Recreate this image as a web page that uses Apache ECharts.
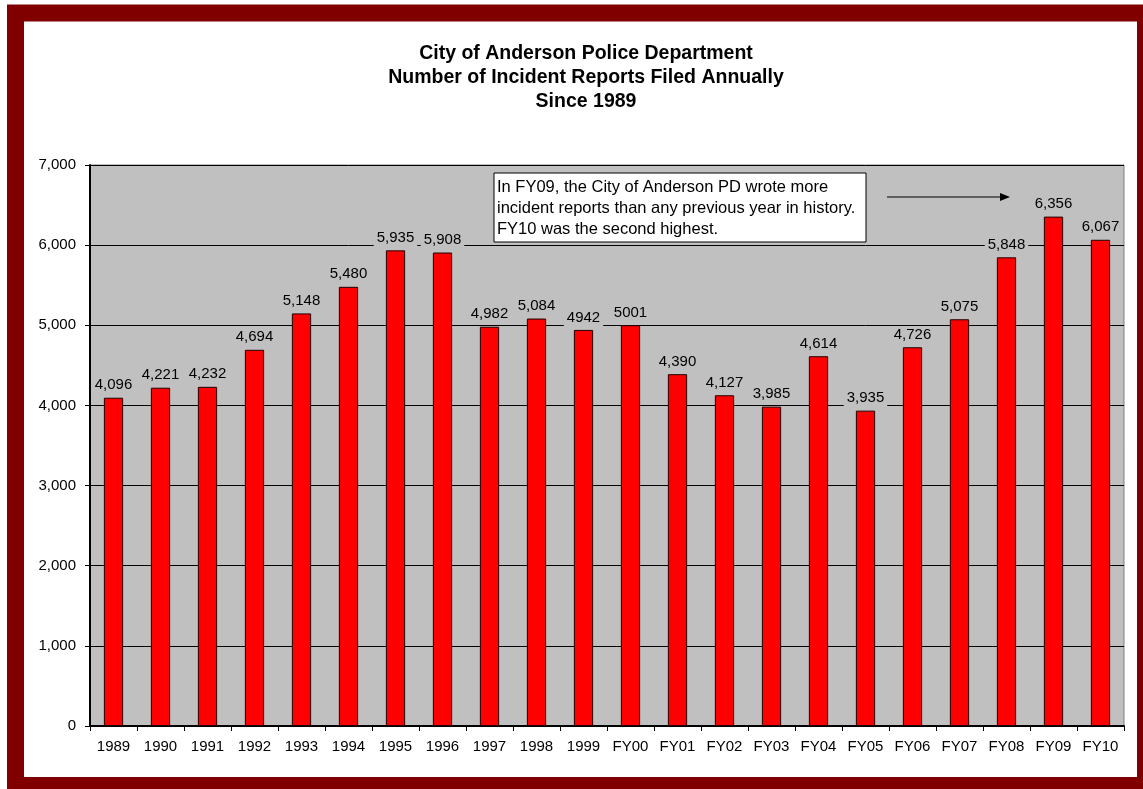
<!DOCTYPE html>
<html>
<head>
<meta charset="utf-8">
<script src="https://cdn.jsdelivr.net/npm/echarts@6/dist/echarts.min.js"></script>
<style>
html, body { margin: 0; padding: 0; background: #fff; }
#chart { width: 1143px; height: 789px; }
</style>
</head>
<body>
<div id="chart"></div>
<script>
const years = [ '1989', '1990', '1991', '1992', '1993', '1994', '1995', '1996', '1997', '1998', '1999',
	'FY00', 'FY01', 'FY02', 'FY03', 'FY04', 'FY05', 'FY06', 'FY07', 'FY08', 'FY09', 'FY10' ]
const reports = [ 4096, 4221, 4232, 4694, 5148, 5480, 5935, 5908, 4982, 5084, 4942,
	5001, 4390, 4127, 3985, 4614, 3935, 4726, 5075, 5848, 6356, 6067 ]
// a few labels in the source are printed without thousands separator
const plainLabels = [ 'FY00', '1999' ]

const chart = echarts.init( document.getElementById( 'chart' ), null, { renderer: 'canvas' } )

const fmt = v => v.toLocaleString( 'en-US' )

const option = {
	animation: false,
	textStyle: { fontFamily: 'Liberation Sans, Arial, sans-serif' },
	title: {
		text: 'City of Anderson Police Department\nNumber of Incident Reports Filed Annually\nSince 1989',
		left: 581,
		top: 37,
		textAlign: 'center',
		textStyle: { fontSize: 19.5, fontWeight: 'bold', color: '#000', lineHeight: 24 }
	},
	grid: { left: 90, right: 19, top: 165, bottom: 63, show: true, backgroundColor: '#c0c0c0', borderColor: '#808080', borderWidth: 1 },
	xAxis: {
		type: 'category',
		data: years,
		axisLine: { lineStyle: { color: '#000', width: 2 } },
		axisTick: { show: true, length: 5, lineStyle: { color: '#000' } },
		axisLabel: { color: '#000', fontSize: 15, margin: 13 }
	},
	yAxis: {
		type: 'value',
		min: 0,
		max: 7000,
		interval: 1000,
		axisLine: { show: true, lineStyle: { color: '#000', width: 2 } },
		axisTick: { show: true, length: 5, lineStyle: { color: '#000' } },
		axisLabel: { color: '#000', fontSize: 15, margin: 14, formatter: v => fmt( v ) },
		splitLine: { lineStyle: { color: '#000', width: 1 } }
	},
	series: [ {
		type: 'bar',
		data: reports,
		barWidth: '41%',
		itemStyle: { color: '#ff0000', borderColor: '#200000', borderWidth: 1 },
		label: {
			show: true,
			position: 'top',
			distance: 4,
			color: '#000',
			fontSize: 15,
			backgroundColor: '#c0c0c0',
			padding: [ 1, 3 ],
			formatter: p => plainLabels.includes( p.name ) ? String( p.value ) : fmt( p.value )
		}
	} ],
	graphic: [
		{
			type: 'rect',
			shape: { x: 15.5, y: 13, width: 1130, height: 772.5 },
			style: { fill: null, stroke: '#800000', lineWidth: 17 },
			z: 100
		},
		{
			type: 'rect',
			shape: { x: 494, y: 173, width: 372, height: 69 },
			style: { fill: '#fff', stroke: '#000', lineWidth: 1 },
			z: 50
		},
		{
			type: 'text',
			x: 497,
			y: 177,
			style: {
				text: 'In FY09, the City of Anderson PD wrote more\nincident reports than any previous year in history.\nFY10 was the second highest.',
				fill: '#000',
				font: '16.5px Liberation Sans, Arial, sans-serif',
				lineHeight: 21
			},
			z: 51
		},
		{
			type: 'line',
			shape: { x1: 887, y1: 197, x2: 1000, y2: 197 },
			style: { stroke: '#000', lineWidth: 1 },
			z: 50
		},
		{
			type: 'polygon',
			shape: { points: [ [ 1010, 197 ], [ 1000, 193 ], [ 1000, 201 ] ] },
			style: { fill: '#000' },
			z: 50
		}
	]
}

chart.setOption( option )
</script>
</body>
</html>
